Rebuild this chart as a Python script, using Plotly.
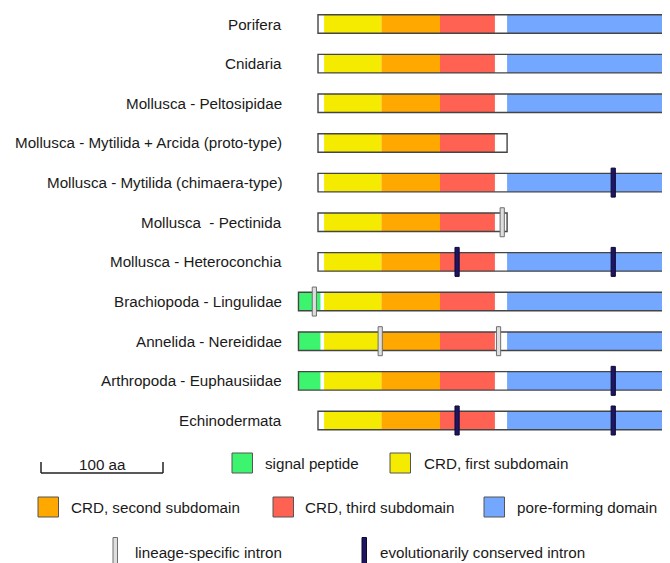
import plotly.graph_objects as go

# ---------------- data (amino-acid positions, 0 = start of mature protein) -------------
species = [
    "Porifera",
    "Cnidaria",
    "Mollusca - Peltosipidae",
    "Mollusca - Mytilida + Arcida (proto-type)",
    "Mollusca - Mytilida (chimaera-type)",
    "Mollusca\u00a0 - Pectinida",
    "Mollusca - Heteroconchia",
    "Brachiopoda - Lingulidae",
    "Annelida - Nereididae",
    "Arthropoda - Euphausiidae",
    "Echinodermata",
]

protein_start = [0, 0, 0, 0, 0, 0, 0, -16, -16, -16, 0]
protein_end = [330, 330, 330, 155, 330, 155, 330, 330, 330, 330, 330]

signal_start = [None, None, None, None, None, None, None, -16, -16, -16, None]
signal_end = [None, None, None, None, None, None, None, 2, 2, 2, None]

crd1_start = [5, 5, 5, 5, 5, 5, 5, 5, 5, 5, 5]
crd1_end = [52, 52, 52, 52, 52, 52, 52, 52, 52, 52, 52]
crd2_start = [52, 52, 52, 52, 52, 52, 52, 52, 52, 52, 52]
crd2_end = [100, 100, 100, 100, 100, 100, 100, 100, 100, 100, 100]
crd3_start = [100, 100, 100, 100, 100, 100, 100, 100, 100, 100, 100]
crd3_end = [145, 145, 145, 145, 145, 145, 145, 145, 145, 145, 145]
pfd_start = [155, 155, 155, None, 155, None, 155, 155, 155, 155, 155]
pfd_end = [330, 330, 330, None, 330, None, 330, 330, 330, 330, 330]

lineage_intron_row = [5, 7, 8, 8]
lineage_intron_pos = [151, -3, 51, 148]
conserved_intron_row = [4, 6, 6, 9, 10, 10]
conserved_intron_pos = [242, 114, 242, 242, 114, 242]

scale_bar_aa = 100

# ---------------- styling -------------
C_SIG = "#3df46f"
C_CRD1 = "#f4eb00"
C_CRD2 = "#ffa800"
C_CRD3 = "#ff6152"
C_PFD = "#74a7ff"
C_LIN = "#dedede"
C_CON = "#1e1563"
OUTLINE = "#454545"
FONT = "Liberation Sans, Arial, sans-serif"
FS = 15.2
TXT = "#1a1a1a"

PAGE_OFF = 8              # default page margin around the figure
W, H = 670 - PAGE_OFF, 563 - PAGE_OFF
X0, KX = 318.0, 1.22      # page pixel of aa 0, pixels per aa
Y0, KY = 24.0, 39.65      # page pixel of row 0, pixels per row
BAR_W = 18.5 / KY
INTRON_W = 29.0 / KY
INTRON_LEN = 4.2 / KX


def px2x(px):
    return (px - X0) / KX


def py2y(py):
    return (py - Y0) / KY


fig = go.Figure()


def add_segments(starts, ends, color, line_color=None, line_w=0, width=BAR_W):
    ys, xs, bs = [], [], []
    for i, (s, e) in enumerate(zip(starts, ends)):
        if s is None or e is None:
            continue
        ys.append(i)
        bs.append(s)
        xs.append(e - s)
    fig.add_trace(go.Bar(
        orientation="h", y=ys, x=xs, base=bs, width=width,
        marker=dict(color=color, opacity=1,
                    line=dict(color=line_color or color, width=line_w)),
        hoverinfo="skip", showlegend=False,
    ))


# white protein body
add_segments(protein_start, protein_end, "white")
add_segments(signal_start, signal_end, C_SIG)
add_segments(crd1_start, crd1_end, C_CRD1)
add_segments(crd2_start, crd2_end, C_CRD2)
add_segments(crd3_start, crd3_end, C_CRD3)
add_segments(pfd_start, pfd_end, C_PFD)
# outline
add_segments(protein_start, protein_end, "rgba(0,0,0,0)", OUTLINE, 1.4)


def add_introns(rows, pos, color, line_color):
    fig.add_trace(go.Bar(
        orientation="h", y=rows, x=[INTRON_LEN] * len(pos),
        base=[p - INTRON_LEN / 2 for p in pos], width=INTRON_W,
        marker=dict(color=color, opacity=1, line=dict(color=line_color, width=1)),
        hoverinfo="skip", showlegend=False,
    ))


add_introns(lineage_intron_row, lineage_intron_pos, C_LIN, "#6e6e6e")
add_introns(conserved_intron_row, conserved_intron_pos, C_CON, "#0c0933")

annotations = []
for i, name in enumerate(species):
    annotations.append(dict(
        x=px2x(284), y=i, xref="x", yref="y", text=name, showarrow=False,
        xanchor="right", yanchor="middle", font=dict(family=FONT, size=FS, color=TXT),
    ))

shapes = []

# scale bar (100 aa in data units)
sb_x0 = px2x(41)
sb_x1 = sb_x0 + scale_bar_aa
sb_y = py2y(473)
sb_top = py2y(462)
for seg in [(sb_x0, sb_y, sb_x1, sb_y), (sb_x0, sb_top, sb_x0, sb_y), (sb_x1, sb_top, sb_x1, sb_y)]:
    shapes.append(dict(type="line", xref="x", yref="y", x0=seg[0], y0=seg[1], x1=seg[2], y1=seg[3],
                       line=dict(color="#222", width=1.5)))
annotations.append(dict(x=(sb_x0 + sb_x1) / 2, y=py2y(464), xref="x", yref="y", text="100 aa",
                        showarrow=False, xanchor="center", yanchor="middle",
                        font=dict(family=FONT, size=FS, color=TXT)))

legend_boxes = [
    (232, 463, C_SIG, 263, "signal peptide"),
    (390, 463, C_CRD1, 422, "CRD, first subdomain"),
    (38, 507, C_CRD2, 69, "CRD, second subdomain"),
    (273, 507, C_CRD3, 303, "CRD, third subdomain"),
    (484, 507, C_PFD, 515, "pore-forming domain"),
]
for bx, by, col, tx, label in legend_boxes:
    shapes.append(dict(type="rect", xref="x", yref="y",
                       x0=px2x(bx), x1=px2x(bx + 20.5), y0=py2y(by - 10), y1=py2y(by + 10),
                       fillcolor=col, line=dict(color="#555", width=1)))
    annotations.append(dict(x=px2x(tx), y=py2y(by), xref="x", yref="y", text=label,
                            showarrow=False, xanchor="left", yanchor="middle",
                            font=dict(family=FONT, size=FS, color=TXT)))

legend_introns = [
    (113, 552, C_LIN, "#6e6e6e", 133, "lineage-specific intron"),
    (362, 552, C_CON, "#0c0933", 378, "evolutionarily conserved intron"),
]
for ix, iy, col, lc, tx, label in legend_introns:
    shapes.append(dict(type="rect", xref="x", yref="y",
                       x0=px2x(ix), x1=px2x(ix + 4.5), y0=py2y(iy - 14.5), y1=py2y(iy + 14.5),
                       fillcolor=col, line=dict(color=lc, width=1)))
    annotations.append(dict(x=px2x(tx), y=py2y(iy), xref="x", yref="y", text=label,
                            showarrow=False, xanchor="left", yanchor="middle",
                            font=dict(family=FONT, size=FS, color=TXT)))

fig.update_layout(
    width=W, height=H,
    margin=dict(l=0, r=0, t=0, b=0),
    paper_bgcolor="white", plot_bgcolor="white",
    barmode="overlay",
    xaxis=dict(range=[px2x(PAGE_OFF), px2x(PAGE_OFF + W)], visible=False, fixedrange=True),
    yaxis=dict(range=[py2y(PAGE_OFF + H), py2y(PAGE_OFF)], visible=False, fixedrange=True),
    annotations=annotations,
    shapes=shapes,
    showlegend=False,
)

fig.write_html("out.html")
